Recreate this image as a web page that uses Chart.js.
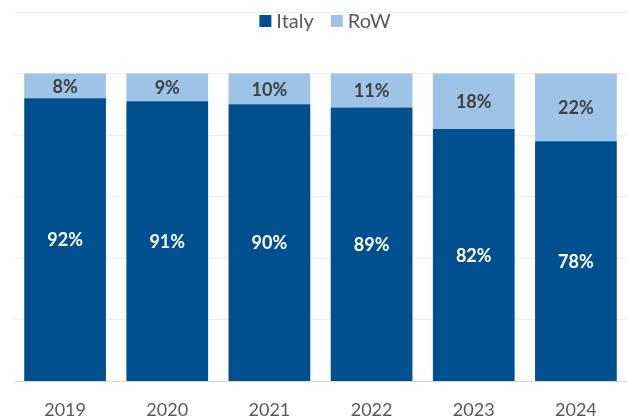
<!DOCTYPE html>
<html>
<head>
<meta charset="utf-8">
<script src="https://cdn.jsdelivr.net/npm/chart.js@4/dist/chart.umd.min.js"></script>
<style>
  html, body { margin: 0; padding: 0; background: #fff; }
  #wrap { width: 627px; height: 417px; }
</style>
</head>
<body>
<div id="wrap"><canvas id="shareChart"></canvas></div>
<script>
var years = ['2019', '2020', '2021', '2022', '2023', '2024'];
var italy = [92, 91, 90, 89, 82, 78];
var row = [8, 9, 10, 11, 18, 22];

// draw the % value in the middle of each bar segment
var barLabels = {
    id: 'barLabels',
    afterDatasetsDraw: function(chart) {
        var ctx = chart.ctx;
        ctx.save();
        ctx.font = 'bold 18px Lato, sans-serif';
        ctx.textAlign = 'center';
        ctx.textBaseline = 'middle';
        chart.data.datasets.forEach(function(ds, i) {
            var meta = chart.getDatasetMeta(i);
            ctx.fillStyle = i === 0 ? '#ffffff' : '#404040';
            meta.data.forEach(function(bar, j) {
                var y = (bar.y + bar.base) / 2;
                ctx.fillText(ds.data[j] + '%', bar.x, y + 1);
            });
        });
        ctx.restore();
    }
};

// legend sits on top of the plot, like the excel one
var topLegend = {
    id: 'topLegend',
    afterDraw: function(chart) {
        var ctx = chart.ctx;
        var ds = chart.data.datasets;
        ctx.save();
        ctx.font = '20px Lato, sans-serif';
        ctx.textBaseline = 'middle';
        var box = 12, gap = 5, between = 17;
        var total = 0;
        ds.forEach(function(d, i) {
            total += box + gap + ctx.measureText(d.label).width;
            if (i < ds.length - 1) total += between;
        });
        var x = 325 - total / 2;
        var y = 21;
        ds.forEach(function(d) {
            ctx.fillStyle = d.backgroundColor;
            ctx.fillRect(x, y - box / 2, box, box);
            x += box + gap;
            ctx.fillStyle = '#595959';
            ctx.fillText(d.label, x, y + 1);
            x += ctx.measureText(d.label).width + between;
        });
        ctx.restore();
    }
};

var ctx = document.getElementById('shareChart');

new Chart(ctx, {
    type: 'bar',
    data: {
        labels: years,
        datasets: [{
            label: 'Italy',
            data: italy,
            backgroundColor: '#00508F',
            barPercentage: 0.8,
            categoryPercentage: 1
        }, {
            label: 'RoW',
            data: row,
            backgroundColor: '#9DC3E6',
            barPercentage: 0.8,
            categoryPercentage: 1
        }]
    },
    options: {
        responsive: true,
        maintainAspectRatio: false,
        animation: false,
        layout: { padding: { top: 12, left: 14, right: 0, bottom: -14 } },
        plugins: {
            tooltip: { enabled: false },
            legend: { display: false }
        },
        scales: {
            x: {
                stacked: true,
                grid: { display: false },
                border: { color: '#d9d9d9', width: 1 },
                ticks: {
                    color: '#595959',
                    padding: 10,
                    font: { family: 'Lato, sans-serif', size: 18 }
                }
            },
            y: {
                stacked: true,
                min: 0,
                max: 120,
                grid: { color: '#efefef', lineWidth: 1, drawTicks: false },
                border: { display: false },
                ticks: { display: false, stepSize: 20 }
            }
        }
    },
    plugins: [barLabels, topLegend]
});
</script>
</body>
</html>
